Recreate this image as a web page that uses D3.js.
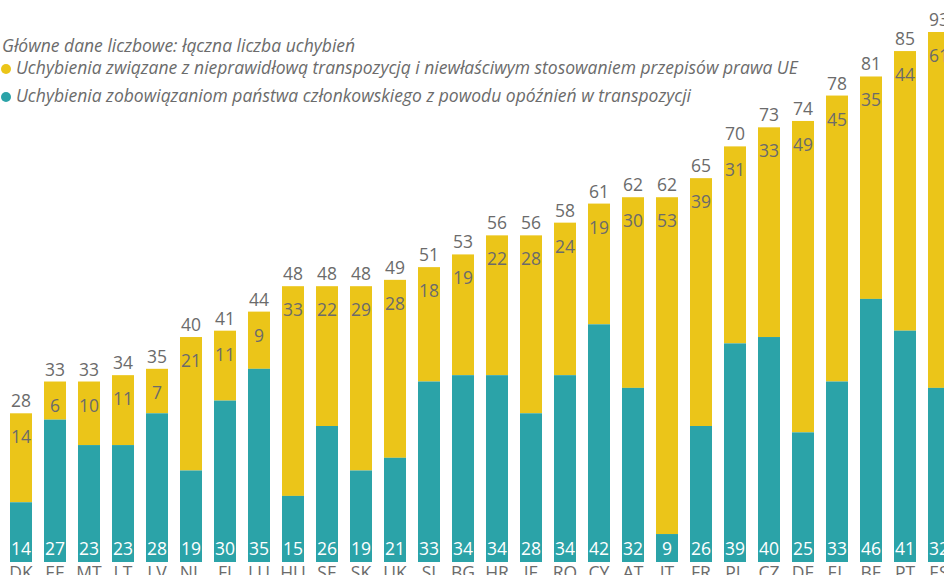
<!DOCTYPE html>
<html>
<head>
<meta charset="utf-8">
<script src="https://cdn.jsdelivr.net/npm/d3@7"></script>
<style>
  body { margin: 0; background: #fff; }
  svg { display: block; font-family: "Open Sans", sans-serif; }
</style>
</head>
<body>
<div></div>
<script>
const width = 944;
const height = 575;

const countries = ["DK", "EE", "MT", "LT", "LV", "NL", "FI", "LU", "HU", "SE", "SK", "UK", "SI", "BG",
  "HR", "IE", "RO", "CY", "AT", "IT", "FR", "PL", "CZ", "DE", "EL", "BE", "PT", "ES"];
// uchybienia z powodu opóźnień w transpozycji (dolna część słupka)
const lateTransposition = [14, 27, 23, 23, 28, 19, 30, 35, 15, 26, 19, 21, 33, 34,
  34, 28, 34, 42, 32, 9, 26, 39, 40, 25, 33, 46, 41, 32];
// nieprawidłowa transpozycja / niewłaściwe stosowanie (górna część)
const wrongApplication = [14, 6, 10, 11, 7, 21, 11, 9, 33, 22, 29, 28, 18, 19,
  22, 28, 24, 19, 30, 53, 39, 31, 33, 49, 45, 35, 44, 61];

const legendTitle = "Główne dane liczbowe: łączna liczba uchybień";
const legendItems = [
  "Uchybienia związane z nieprawidłową transpozycją i niewłaściwym stosowaniem przepisów prawa UE",
  "Uchybienia zobowiązaniom państwa członkowskiego z powodu opóźnień w transpozycji",
];

const yellow = "#ebc519";
const teal = "#2ba3a8";
const grey = "#6b6b6b";

const data = countries.map((c, i) => ({
  country: c,
  late: lateTransposition[i],
  wrong: wrongApplication[i],
  total: lateTransposition[i] + wrongApplication[i],
}));

const svg = d3
  .select("div")
  .append("svg")
  .attr("width", width)
  .attr("height", height);

const xScale = d3
  .scaleBand()
  .domain(countries)
  .range([4, 4 + countries.length * 34])
  .paddingInner(0.353)
  .paddingOuter(0.1765);

// oś nie zaczyna się od zera; najwyższy słupek jest przycięty
const yScale = d3.scaleLinear().domain([4.6, 88]).range([562, 32]).clamp(true);

const bars = svg.append("g").selectAll("g").data(data).enter().append("g");

bars
  .append("rect")
  .attr("x", (d) => xScale(d.country))
  .attr("y", (d) => yScale(d.total))
  .attr("width", xScale.bandwidth())
  .attr("height", (d) => yScale(d.late) - yScale(d.total))
  .attr("fill", yellow);

bars
  .append("rect")
  .attr("x", (d) => xScale(d.country))
  .attr("y", (d) => yScale(d.late))
  .attr("width", xScale.bandwidth())
  .attr("height", (d) => yScale(yScale.domain()[0]) - yScale(d.late))
  .attr("fill", teal);

const cx = (d) => xScale(d.country) + xScale.bandwidth() / 2;

bars
  .append("text")
  .attr("x", cx)
  .attr("y", (d) => yScale(d.total) - 6)
  .attr("text-anchor", "middle")
  .attr("font-size", 17.5)
  .attr("fill", grey)
  .text((d) => d.total);

bars
  .append("text")
  .attr("x", cx)
  .attr("y", (d) => yScale(d.total) + 30)
  .attr("text-anchor", "middle")
  .attr("font-size", 17.5)
  .attr("fill", grey)
  .text((d) => d.wrong);

bars
  .append("text")
  .attr("x", cx)
  .attr("y", yScale(yScale.domain()[0]) - 7)
  .attr("text-anchor", "middle")
  .attr("font-size", 17.5)
  .attr("fill", "#fff")
  .text((d) => d.late);

bars
  .append("text")
  .attr("x", cx)
  .attr("y", yScale(yScale.domain()[0]) + 17)
  .attr("text-anchor", "middle")
  .attr("font-size", 17.5)
  .attr("fill", grey)
  .text((d) => d.country);

// legenda
const legend = svg.append("g").attr("font-style", "italic").attr("fill", grey).attr("font-size", 17.5);

legend.append("text").attr("x", 2).attr("y", 52).text(legendTitle);

legendItems.forEach((t, i) => {
  const y = 74 + i * 28;
  legend
    .append("circle")
    .attr("cx", 6)
    .attr("cy", y - 5)
    .attr("r", 5)
    .attr("fill", i === 0 ? yellow : teal);
  legend.append("text").attr("x", 16).attr("y", y).text(t);
});
</script>
</body>
</html>
